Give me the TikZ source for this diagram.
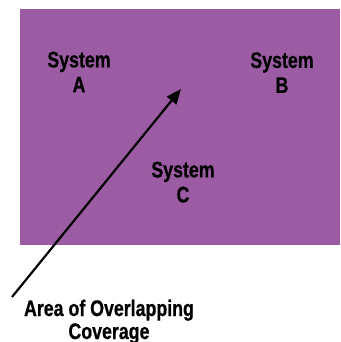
\documentclass[tikz,border=0pt]{standalone}
\usepackage{fontspec}
\setmainfont{Liberation Sans Bold}[FakeStretch=0.79, FakeBold=0.6]
\usetikzlibrary{arrows.meta}
\definecolor{areapurple}{RGB}{156,92,164}
\tikzset{
  syslabel/.style={align=center, anchor=north, font=\fontsize{22.5}{25}\selectfont, text=black, inner sep=0pt},
  notelabel/.style={align=center, anchor=north, font=\fontsize{22.5}{23}\selectfont, text=black, inner sep=0pt},
  pointer/.style={line width=2.2pt, -{Triangle[length=15pt,width=12pt]}}
}
\begin{document}
\begin{tikzpicture}[x=1pt,y=1pt]
  \useasboundingbox (0,0) rectangle (340,342);
  \fill[areapurple] (20,97) rectangle (340,333);
  \node[syslabel] (sysA) at (79,290.5) {System\\A};
  \node[syslabel] (sysB) at (282,290) {System\\B};
  \node[syslabel] (sysC) at (183,180.5) {System\\C};
  \node[notelabel] (note) at (109,42.5) {Area of Overlapping\\Coverage};
  \coordinate (tail) at (12,45);
  \coordinate (overlap) at (181,253);
  \draw[pointer] (tail) -- (overlap);
\end{tikzpicture}
\end{document}
